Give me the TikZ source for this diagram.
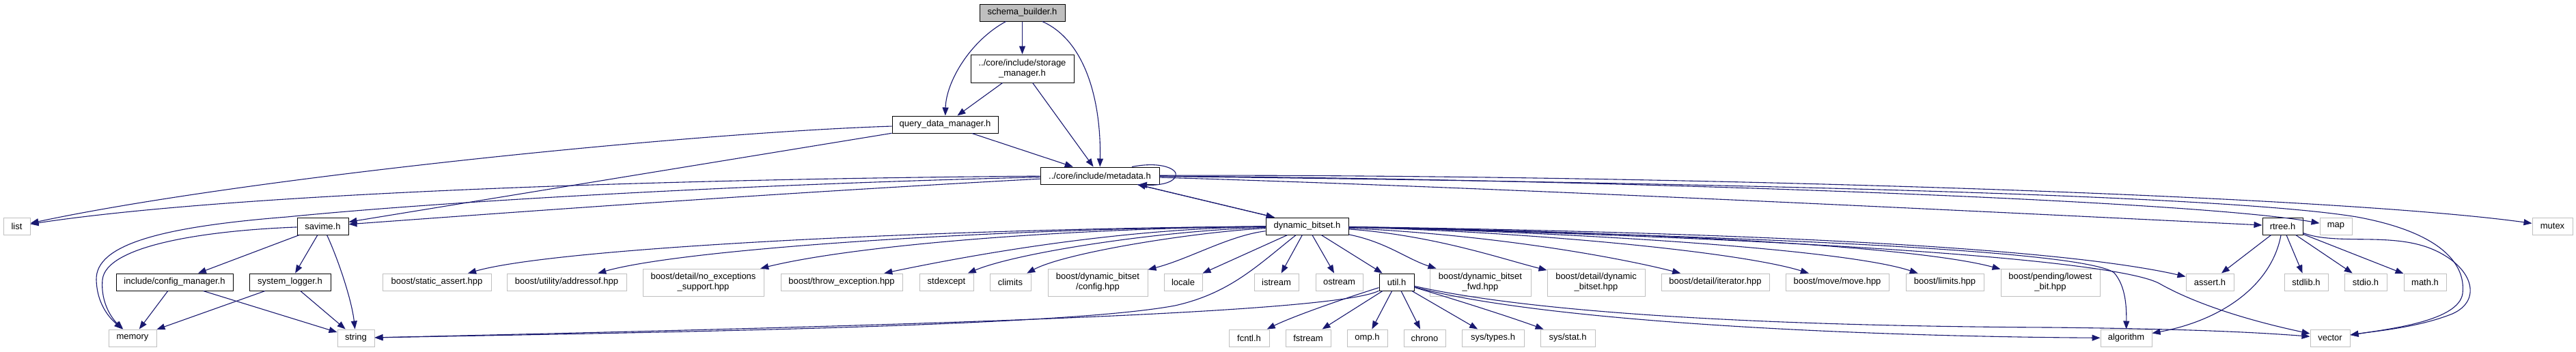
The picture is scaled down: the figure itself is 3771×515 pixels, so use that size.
\documentclass[tikz,border=0pt]{standalone}
\usepackage{fontspec}
\setmainfont{Liberation Sans}
\usetikzlibrary{arrows.meta}
\definecolor{edgec}{HTML}{191970}
\definecolor{grayb}{HTML}{BFBFBF}
\begin{document}
\begin{tikzpicture}[x=1pt,y=-1pt,
 box/.style={rectangle, inner sep=0pt, minimum height=25pt, align=center, font=\fontsize{13}{15}\selectfont, line width=1pt},
 doc/.style={box, draw=black, fill=white},
 ext/.style={box, draw=grayb, fill=white},
 root/.style={box, draw=black, fill=grayb},
 two/.style={minimum height=40pt},
 edge/.style={draw=edgec, line width=1.1pt, -{Triangle[length=12pt,width=9pt]}}]
\useasboundingbox[fill=white] (0,0) rectangle (3771,515);
% row 1-4
\node[root, minimum width=125pt] (sb) at (1496.5,18.5) {schema\_builder.h};
\node[doc, minimum width=151pt, minimum height=41pt] (stm) at (1496.5,100.5) {../core/include/storage\\\_manager.h};
\node[doc, minimum width=155pt] (qdm) at (1383.5,182.5) {query\_data\_manager.h};
\node[doc, minimum width=174pt] (md) at (1610,257.5) {../core/include/metadata.h};
% row 5
\node[ext, minimum width=39pt] (list) at (24.5,331.5) {list};
\node[doc, minimum width=75pt] (savime) at (472.5,331.5) {savime.h};
\node[doc, minimum width=121pt] (dbs) at (1913.5,331.5) {dynamic\_bitset.h};
\node[doc, minimum width=59pt] (rtree) at (3341.5,331.5) {rtree.h};
\node[ext, minimum width=47pt] (map) at (3419.5,331.5) {map};
\node[ext, minimum width=59pt] (mutex) at (3736.5,331.5) {mutex};
% row 6
\node[doc, minimum width=171pt] (cfg) at (255.5,413.5) {include/config\_manager.h};
\node[doc, minimum width=119pt] (slog) at (424.5,413.5) {system\_logger.h};
\node[ext, minimum width=159pt] (sa) at (639.5,413.5) {boost/static\_assert.hpp};
\node[ext, minimum width=175pt] (addr) at (829.5,413.5) {boost/utility/addressof.hpp};
\node[ext, two, minimum width=177pt] (noex) at (1029.5,414) {boost/detail/no\_exceptions\\\_support.hpp};
\node[ext, minimum width=178pt] (thr) at (1232,413.5) {boost/throw\_exception.hpp};
\node[ext, minimum width=79pt] (stdexc) at (1385.5,413.5) {stdexcept};
\node[ext, minimum width=60pt] (climits) at (1479,413.5) {climits};
\node[ext, two, minimum width=146pt] (bcfg) at (1607,414) {boost/dynamic\_bitset\\/config.hpp};
\node[ext, minimum width=56pt] (locale) at (1732,413.5) {locale};
\node[ext, minimum width=65pt] (istream) at (1868.5,413.5) {istream};
\node[ext, minimum width=69pt] (ostream) at (1960.5,413.5) {ostream};
\node[doc, minimum width=51pt] (util) at (2044.5,413.5) {util.h};
\node[ext, two, minimum width=148pt] (fwd) at (2167,414) {boost/dynamic\_bitset\\\_fwd.hpp};
\node[ext, two, minimum width=143pt] (ddb) at (2336.5,414) {boost/detail/dynamic\\\_bitset.hpp};
\node[ext, minimum width=158pt] (iter) at (2511,413.5) {boost/detail/iterator.hpp};
\node[ext, minimum width=151pt] (move) at (2689.5,413.5) {boost/move/move.hpp};
\node[ext, minimum width=114pt] (limits) at (2847,413.5) {boost/limits.hpp};
\node[ext, two, minimum width=145pt] (lowbit) at (3001.5,414) {boost/pending/lowest\\\_bit.hpp};
\node[ext, minimum width=70pt] (assert) at (3235,413.5) {assert.h};
\node[ext, minimum width=64pt] (stdlib) at (3376,413.5) {stdlib.h};
\node[ext, minimum width=62pt] (stdio) at (3463,413.5) {stdio.h};
\node[ext, minimum width=62pt] (math) at (3550,413.5) {math.h};
% row 7
\node[ext, minimum width=70pt] (memory) at (194,495.5) {memory};
\node[ext, minimum width=54pt] (string) at (521,495.5) {string};
\node[ext, minimum width=59pt] (fcntl) at (1828.5,495.5) {fcntl.h};
\node[ext, minimum width=66pt] (fstream) at (1915,495.5) {fstream};
\node[ext, minimum width=59pt] (omp) at (2001.5,495.5) {omp.h};
\node[ext, minimum width=61pt] (chrono) at (2085.5,495.5) {chrono};
\node[ext, minimum width=91pt] (systypes) at (2185.5,495.5) {sys/types.h};
\node[ext, minimum width=80pt] (sysstat) at (2295,495.5) {sys/stat.h};
\node[ext, minimum width=75pt] (algorithm) at (3112.5,495.5) {algorithm};
\node[ext, minimum width=58pt] (vector) at (3411,495.5) {vector};

% top edges
\draw[edge] (sb) .. controls (1420,60) and (1385,120) .. (qdm);
\draw[edge] (sb) -- (stm);
\draw[edge] (sb) .. controls (1590,60) and (1612,150) .. (md);
\draw[edge] (stm) -- (qdm);
\draw[edge] (stm) -- (md);
\draw[edge] (qdm) -- (md);
\draw[edge] (qdm) .. controls (1000,195) and (350,262) .. (list);
\draw[edge] (qdm) -- (savime);
% metadata edges
\draw[edge] (md) .. controls (1000,262) and (350,282) .. (list);
\draw[edge] (md) .. controls (1100,270) and (650,295) .. (420,318) .. controls (230,333) and (140,360) .. (141,410) .. controls (142,450) and (165,470) .. (memory);
\draw[edge] (md) .. controls (1100,285) and (700,315) .. (savime);
\draw[edge] ([xshift=47pt]md.north) .. controls (1700,236) and (1725,248) .. (1721,258) .. controls (1717,270) and (1690,272) .. ([xshift=57pt]md.south);
\draw[edge] ([xshift=55pt]md.south) -- ([xshift=-48pt]dbs.north);
\draw[edge] ([xshift=-48pt]dbs.north) -- ([xshift=55pt]md.south);
\draw[edge] (md) .. controls (2200,275) and (2900,310) .. (rtree);
\draw[edge] (md) .. controls (2300,262) and (3200,292) .. (map);
\draw[edge] (md) .. controls (2400,255) and (3400,285) .. (mutex);
\draw[edge] (md) .. controls (2500,268) and (3250,285) .. (3450,318) .. controls (3570,340) and (3610,385) .. (3605,430) .. controls (3600,470) and (3500,482) .. (vector);
% savime edges
\draw[edge] (savime) .. controls (300,338) and (155,360) .. (150,410) .. controls (147,445) and (165,468) .. (memory);
\draw[edge] (savime) -- (cfg);
\draw[edge] (savime) -- (slog);
\draw[edge] (savime) .. controls (495,380) and (515,440) .. (string);
\draw[edge] (cfg) -- (memory);
\draw[edge] (cfg) -- (string);
\draw[edge] (slog) -- (memory);
\draw[edge] (slog) -- (string);
% rtree edges
\draw[edge] ([yshift=-10pt]rtree.east) .. controls (3420,360) and (3500,340) .. (3560,365) .. controls (3620,390) and (3635,440) .. (3590,460) .. controls (3540,480) and (3480,485) .. (vector);
\draw[edge] (rtree) -- (assert);
\draw[edge] (rtree) -- (stdlib);
\draw[edge] (rtree) -- (stdio);
\draw[edge] (rtree) -- (math);
\draw[edge] (rtree) .. controls (3325,420) and (3250,470) .. (algorithm);
% dynamic_bitset edges
\draw[edge] (dbs) .. controls (1400,335) and (820,362) .. (sa);
\draw[edge] (dbs) .. controls (1450,335) and (1000,365) .. (addr);
\draw[edge] (dbs) .. controls (1550,335) and (1250,360) .. (noex);
\draw[edge] (dbs) .. controls (1650,335) and (1450,368) .. (thr);
\draw[edge] (dbs) .. controls (1700,338) and (1490,370) .. (stdexc);
\draw[edge] (dbs) .. controls (1750,340) and (1560,370) .. (climits);
\draw[edge] (dbs) .. controls (1800,345) and (1740,380) .. (bcfg);
\draw[edge] (dbs) -- (locale);
\draw[edge] (dbs) -- (istream);
\draw[edge] (dbs) -- (ostream);
\draw[edge] (dbs) -- (util);
\draw[edge] (dbs) .. controls (2030,355) and (2060,380) .. (fwd);
\draw[edge] (dbs) .. controls (2100,345) and (2200,380) .. (ddb);
\draw[edge] (dbs) .. controls (2200,345) and (2380,380) .. (iter);
\draw[edge] (dbs) .. controls (2250,340) and (2550,370) .. (move);
\draw[edge] (dbs) .. controls (2300,340) and (2700,365) .. (limits);
\draw[edge] (dbs) .. controls (2400,340) and (2800,360) .. (lowbit);
\draw[edge] (dbs) .. controls (2500,340) and (3000,360) .. (assert);
\draw[edge] (dbs) .. controls (2500,345) and (3050,365) .. (3095,400) .. controls (3112,420) and (3113,450) .. (algorithm);
\draw[edge] (dbs) .. controls (2500,345) and (3080,375) .. (3160,415) .. controls (3230,455) and (3330,478) .. (vector);
\draw[edge] (dbs) .. controls (1840,390) and (1800,430) .. (1720,448) .. controls (1550,480) and (900,488) .. (string);
% util edges
\draw[edge] (util) .. controls (1950,460) and (1300,478) .. (string);
\draw[edge] (util) .. controls (1960,440) and (1890,465) .. (fcntl);
\draw[edge] (util) -- (fstream);
\draw[edge] (util) -- (omp);
\draw[edge] (util) -- (chrono);
\draw[edge] (util) -- (systypes);
\draw[edge] (util) .. controls (2150,445) and (2220,468) .. (sysstat);
\draw[edge] (util) .. controls (2250,470) and (2700,493) .. (algorithm);
\draw[edge] (util) .. controls (2250,460) and (2600,478) .. (3000,480) .. controls (3200,482) and (3300,487) .. (vector);
\end{tikzpicture}
\end{document}
